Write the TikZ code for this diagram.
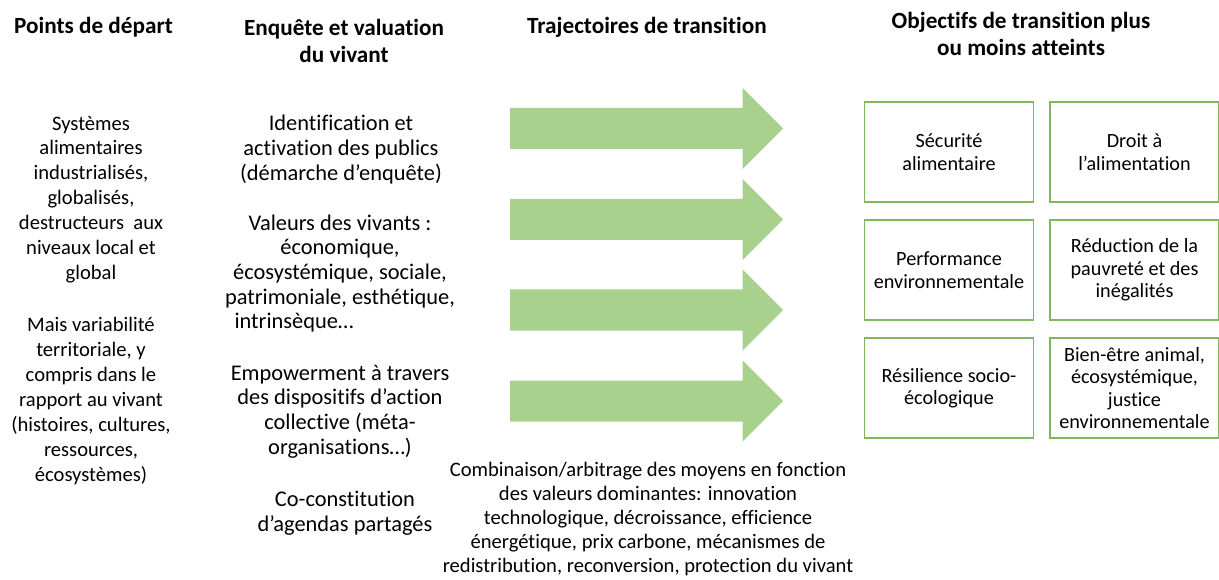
\documentclass[tikz,border=0pt]{standalone}
\usepackage{fontspec}
\setmainfont{Carlito}[Ligatures=NoCommon]
\usepackage{calc}
\definecolor{arrowgreen}{HTML}{A9D18E}
\definecolor{boxgreen}{HTML}{80B95C}
\tikzset{
  body/.style={align=center, inner sep=0pt, font=\fontsize{20.6}{24.9}\selectfont},
  bodyb/.style={align=center, inner sep=0pt, font=\fontsize{22.4}{24.7}\selectfont},
  title/.style={align=center, inner sep=0pt, font=\fontsize{23.2}{27.5}\selectfont\bfseries},
  goal/.style={draw=boxgreen, line width=1.6pt, minimum width=169pt, minimum height=99.5pt, align=center, inner sep=0pt, font=\fontsize{20.2}{22.4}\selectfont},
  trarrow/.style={fill=arrowgreen, draw=none}
}
\begin{document}
\begin{tikzpicture}[x=1pt,y=-1pt]
\useasboundingbox (0,0) rectangle (1219,580);
% titles
\node[title] (t1) at (93.5,27) {Points de départ};
\node[title] (t2) at (344,41) {Enquête et valuation\\du vivant};
\node[title] (t3) at (647,27) {Trajectoires de transition};
\node[title] (t4) at (1021,34) {Objectifs de transition plus\\ou moins atteints};
% column 1
\node[body] (p1) at (91,199.5) {Systèmes\\alimentaires\\industrialisés,\\globalisés,\\destructeurs\ \ aux\\niveaux local et\\global};
\node[body] (p2) at (91,401) {Mais variabilité\\territoriale, y\\compris dans le\\rapport au vivant\\(histoires, cultures,\\ressources,\\écosystèmes)};
% column 2
\node[bodyb] (e1) at (341,149.7) {Identification et\\activation des publics\\(démarche d’enquête)};
\node[bodyb] (e2) at (340,273.5) {Valeurs des vivants :\\économique,\\écosystémique, sociale,\\patrimoniale, esthétique,\\\makebox[\widthof{patrimoniale, esthétique,}][l]{\hspace{9.5pt}intrinsèque…}};
\node[bodyb] (e3) at (340,411.5) {Empowerment à travers\\des dispositifs d’action\\collective (méta-\\organisations…)};
\node[bodyb] (e4) at (345,513) {Co-constitution\\d’agendas partagés};
% arrows
\foreach \i/\y in {1/128.5,2/219.5,3/310,4/401}{
  \fill[trarrow] (510,\y-20.5) -- (742.5,\y-20.5) -- (742.5,\y-40.5) -- (783,\y) -- (742.5,\y+40.5) -- (742.5,\y+20.5) -- (510,\y+20.5) -- cycle;
  \coordinate (arr\i) at (646,\y);
}
\node[body, font=\fontsize{20.6}{24}\selectfont] (m) at (648,519.5) {Combinaison/arbitrage des moyens en fonction\\des valeurs dominantes: innovation\\technologique, décroissance, efficience\\énergétique, prix carbone, mécanismes de\\redistribution, reconversion, protection du vivant};
% goals
\node[goal] (g1) at (949,152) {Sécurité\\alimentaire};
\node[goal] (g2) at (1134.5,152) {Droit à\\l’alimentation};
\node[goal] (g3) at (949,270) {Performance\\environnementale};
\node[goal] (g4) at (1134.5,270) {Réduction de la\\pauvreté et des\\inégalités};
\node[goal] (g5) at (949,388) {Résilience socio-\\écologique};
\node[goal] (g6) at (1134.5,388) {Bien-être animal,\\écosystémique,\\justice\\environnementale};
\end{tikzpicture}
\end{document}
